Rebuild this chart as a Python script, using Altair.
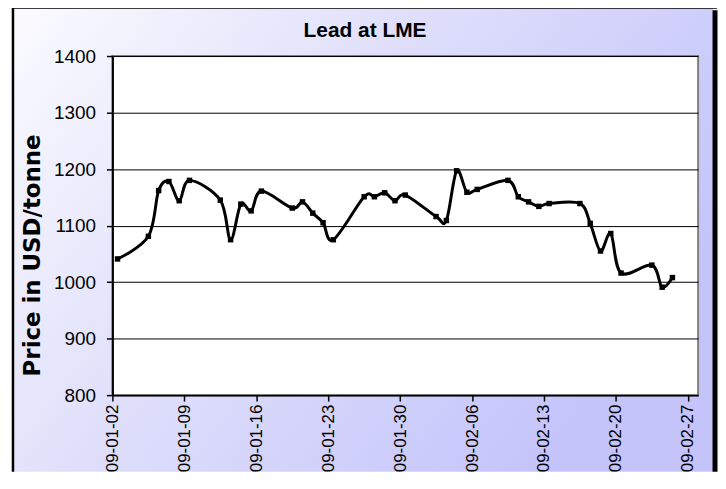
import altair as alt
import pandas as pd

# ---- data ----
dates = ["2009-01-02", "2009-01-05", "2009-01-06", "2009-01-07", "2009-01-08", "2009-01-09",
         "2009-01-12", "2009-01-13", "2009-01-14", "2009-01-15", "2009-01-16",
         "2009-01-19", "2009-01-20", "2009-01-21", "2009-01-22", "2009-01-23",
         "2009-01-26", "2009-01-27", "2009-01-28", "2009-01-29", "2009-01-30",
         "2009-02-02", "2009-02-03", "2009-02-04", "2009-02-05", "2009-02-06",
         "2009-02-09", "2009-02-10", "2009-02-11", "2009-02-12", "2009-02-13",
         "2009-02-16", "2009-02-17", "2009-02-18", "2009-02-19", "2009-02-20",
         "2009-02-23", "2009-02-24", "2009-02-25"]
prices = [1041, 1081, 1162, 1178, 1144, 1180,
          1145, 1075, 1138, 1126, 1161,
          1131, 1142, 1122, 1105, 1075,
          1151, 1151, 1158, 1144, 1154,
          1116, 1109, 1197, 1159, 1164,
          1180, 1151, 1142, 1134, 1139,
          1139, 1104, 1055, 1086, 1016,
          1030, 991, 1008]
tick_dates = [(1, 2), (1, 9), (1, 16), (1, 23), (1, 30), (2, 6), (2, 13), (2, 20), (2, 27)]
y_ticks = [800, 900, 1000, 1100, 1200, 1300, 1400]
title_text = "Lead at LME"
y_title = "Price in USD/tonne"

df = pd.DataFrame({"date": dates, "price": prices})
one = pd.DataFrame({"k": [0]})

W, H = 589, 341

grad = alt.LinearGradient(
    gradient="linear",
    stops=[alt.GradientStop(color="#fbfbff", offset=0),
           alt.GradientStop(color="#e0e0fb", offset=0.45),
           alt.GradientStop(color="#c4c4fb", offset=1)],
    x1=0, y1=0, x2=1, y2=0.5,
)

bg = alt.Chart(one).mark_rect(fill=grad, strokeWidth=0).encode(
    x=alt.value(-100), x2=alt.value(604), y=alt.value(-49), y2=alt.value(418))
right_shadow = alt.Chart(one).mark_rule(color="black", strokeWidth=5).encode(
    x=alt.value(606), y=alt.value(-46), y2=alt.value(418))
left_border = alt.Chart(one).mark_rule(color="black", strokeWidth=2.5).encode(
    x=alt.value(-100), y=alt.value(-50), y2=alt.value(418))
top_border = alt.Chart(one).mark_rule(color="black", strokeWidth=3).encode(
    y=alt.value(-49), x=alt.value(-101), x2=alt.value(608))
plotbg = alt.Chart(one).mark_rect(fill="white", stroke="#808080", strokeWidth=2).encode(
    x=alt.value(0), x2=alt.value(W), y=alt.value(0), y2=alt.value(H))

xenc = alt.X(
    "date:T", timeUnit="utcyearmonthdate", bandPosition=0.5,
    scale=alt.Scale(type="utc", nice=False,
                    domain=[alt.DateTime(year=2009, month=1, date=2, utc=True),
                            alt.DateTime(year=2009, month=2, date=28, utc=True)]),
    axis=alt.Axis(
        values=[alt.DateTime(year=2009, month=m, date=d, utc=True) for m, d in tick_dates],
        format="%y-%m-%d", labelAngle=270, grid=False, title=None,
        domainColor="black", domainWidth=2, tickColor="black", tickWidth=1.5, tickSize=6,
        labelFont="Liberation Sans", labelFontSize=17, labelColor="black", labelPadding=3,
        labelOverlap=False, zindex=1),
)
yenc = alt.Y(
    "price:Q",
    scale=alt.Scale(domain=[800, 1400], nice=False, zero=False),
    axis=alt.Axis(
        values=y_ticks, format="d", grid=True, gridColor="black", gridWidth=1, title=y_title,
        domainColor="black", domainWidth=2, tickColor="black", tickWidth=1.5, tickSize=6,
        labelFont="Liberation Sans", labelFontSize=19, labelColor="black", labelPadding=11,
        titleFont="DejaVu Sans", titleFontWeight="bold", titleFontSize=23, titleColor="black",
        titleAngle=270, titleX=-80, titleY=200, titleAlign="center", titleBaseline="middle",
        zindex=1),
)

line = alt.Chart(df).mark_line(color="black", strokeWidth=3, interpolate="cardinal").encode(
    x=xenc, y=yenc)
pts = alt.Chart(df).mark_square(color="black", size=30, opacity=1).encode(
    x=alt.X("date:T", timeUnit="utcyearmonthdate", bandPosition=0.5),
    y="price:Q")

title = alt.Chart(one).mark_text(
    text=title_text, font="Liberation Sans", fontWeight="bold", fontSize=21,
    color="black", align="center", baseline="middle").encode(
    x=alt.value(254), y=alt.value(-25))

chart = alt.layer(bg, right_shadow, left_border, top_border, plotbg, line, pts, title).properties(
    width=W, height=H,
    padding={"left": 105, "top": 47, "right": 20, "bottom": 77},
    autosize=alt.AutoSizeParams(type="none"),
).configure_view(stroke=None).configure(background="white")

chart.save("out.html", embed_options={"renderer": "svg", "actions": False})
